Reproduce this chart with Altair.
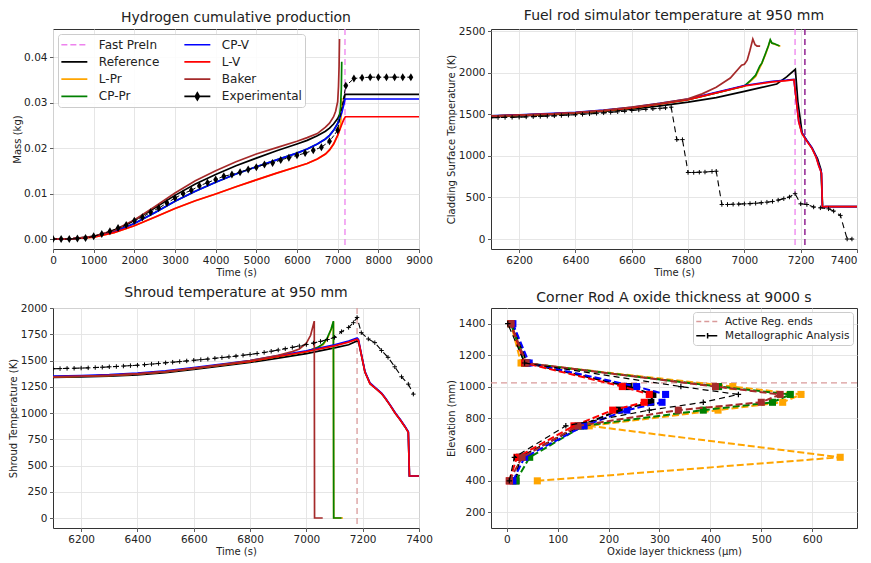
import altair as alt
import pandas as pd

# ================= Panel 1: Hydrogen cumulative production =================
h2_ref_t = [0, 500, 1000, 1250, 1500, 1750, 2000, 2500, 3000, 3500, 4000, 4500, 5000, 5500, 6000, 6250, 6500, 6700, 6800, 6900, 7000, 7050, 7100, 7150, 7180, 9000]
h2_ref_m = [0, 0.0001, 0.0006, 0.0011, 0.0019, 0.0029, 0.0041, 0.0068, 0.0096, 0.0121, 0.0142, 0.0161, 0.0178, 0.0194, 0.0209, 0.0217, 0.0227, 0.0237, 0.0244, 0.0253, 0.0265, 0.0274, 0.0284, 0.0300, 0.0318, 0.0318]

h2_cpv_t = [0, 500, 1000, 1500, 2000, 2500, 3000, 3500, 4000, 4500, 5000, 5500, 6000, 6250, 6500, 6700, 6800, 6900, 7000, 7050, 7100, 7150, 7180, 9000]
h2_cpv_m = [0, 0.0001, 0.0005, 0.0016, 0.0034, 0.0058, 0.0083, 0.0105, 0.0125, 0.0143, 0.0159, 0.0174, 0.0189, 0.0198, 0.0209, 0.0220, 0.0228, 0.0239, 0.0254, 0.0265, 0.0278, 0.0295, 0.0308, 0.0308]

h2_lv_t = [0, 500, 1000, 1500, 2000, 2500, 3000, 3500, 4000, 4500, 5000, 5500, 6000, 6250, 6500, 6700, 6800, 6900, 7000, 7050, 7100, 7150, 7190, 9000]
h2_lv_m = [0, 0.0001, 0.0004, 0.0014, 0.0029, 0.0048, 0.0067, 0.0084, 0.0099, 0.0115, 0.0130, 0.0145, 0.0159, 0.0166, 0.0176, 0.0187, 0.0196, 0.0209, 0.0228, 0.0240, 0.0252, 0.0263, 0.0269, 0.0269]

h2_lpr_t = [0, 500, 1000, 1500, 2000, 2500, 3000, 3500, 4000, 4500, 5000, 5500, 6000, 6250, 6500, 6700, 6800, 6900, 7000, 7040, 7070, 7090, 7100]
h2_lpr_m = [0, 0.0001, 0.0004, 0.0014, 0.0029, 0.0048, 0.0067, 0.0084, 0.0099, 0.0115, 0.0130, 0.0145, 0.0159, 0.0166, 0.0176, 0.0187, 0.0196, 0.0209, 0.0228, 0.0238, 0.0252, 0.0275, 0.0310]

h2_cppr_t = [0, 500, 1000, 1500, 2000, 2500, 3000, 3500, 4000, 4500, 5000, 5500, 6000, 6250, 6500, 6700, 6800, 6900, 7000, 7040, 7070, 7090, 7100]
h2_cppr_m = [0, 0.0001, 0.0005, 0.0016, 0.0034, 0.0058, 0.0083, 0.0105, 0.0125, 0.0143, 0.0159, 0.0174, 0.0189, 0.0198, 0.0209, 0.0220, 0.0228, 0.0239, 0.0254, 0.0266, 0.0290, 0.0330, 0.0390]

h2_baker_t = [0, 500, 1000, 1500, 2000, 2500, 3000, 3500, 4000, 4500, 5000, 5500, 6000, 6250, 6500, 6700, 6800, 6900, 6950, 7000, 7020, 7035, 7045]
h2_baker_m = [0, 0.0001, 0.0006, 0.0019, 0.0042, 0.0071, 0.0101, 0.0128, 0.0150, 0.0170, 0.0187, 0.0201, 0.0215, 0.0223, 0.0232, 0.0246, 0.0255, 0.0269, 0.0281, 0.0302, 0.0335, 0.0380, 0.0440]

h2_exp_t = [0, 200, 400, 600, 800, 1000, 1200, 1400, 1600, 1800, 2000, 2200, 2400, 2600, 2800, 3000, 3200, 3400, 3600, 3800, 4000, 4200, 4400, 4600, 4800, 5000, 5200, 5400, 5600, 5800, 6000, 6200, 6400, 6600, 6800, 7000, 7200, 7400, 7600, 7800, 8000, 8200, 8400, 8600, 8800]
h2_exp_m = [0.0000, 0.0000, 0.0000, 0.0001, 0.0002, 0.0006, 0.0011, 0.0017, 0.0024, 0.0031, 0.0040, 0.0048, 0.0059, 0.0068, 0.0079, 0.0090, 0.0100, 0.0107, 0.0117, 0.0124, 0.0131, 0.0138, 0.0142, 0.0147, 0.0153, 0.0158, 0.0164, 0.0167, 0.0174, 0.0179, 0.0184, 0.0189, 0.0195, 0.0202, 0.0215, 0.0239, 0.0337, 0.0353, 0.0355, 0.0356, 0.0356, 0.0356, 0.0356, 0.0356, 0.0356]

fast_prein_t = [7180]

# ================= Panel 2: Fuel rod simulator temperature =================
fr_ref_t = [6100, 6200, 6300, 6400, 6500, 6600, 6700, 6800, 6900, 7000, 7050, 7115, 7150, 7181, 7190, 7205, 7220, 7240, 7260, 7272, 7278, 7290, 7400]
fr_ref_T = [1470, 1480, 1493, 1510, 1533, 1562, 1600, 1645, 1700, 1775, 1815, 1864, 1950, 2040, 1650, 1275, 1195, 1095, 965, 835, 380, 390, 390]

fr_lv_t = [6100, 6200, 6300, 6400, 6500, 6600, 6700, 6800, 6900, 7000, 7100, 7150, 7176, 7185, 7193, 7204, 7220, 7240, 7255, 7264, 7274, 7277, 7285, 7400]
fr_lv_T = [1478, 1489, 1502, 1518, 1543, 1577, 1625, 1675, 1757, 1840, 1890, 1905, 1915, 1650, 1410, 1270, 1185, 1090, 980, 880, 790, 385, 390, 390]
fr_cpv_T = [1482, 1493, 1507, 1524, 1549, 1583, 1631, 1681, 1763, 1846, 1896, 1910, 1920, 1655, 1415, 1278, 1193, 1098, 988, 888, 795, 385, 390, 390]

fr_pr_t = [6100, 6200, 6300, 6400, 6500, 6600, 6700, 6800, 6900, 7000, 7020, 7040, 7055, 7062, 7075, 7085, 7092, 7098, 7105, 7125]
fr_cppr_T = [1478, 1489, 1502, 1518, 1543, 1577, 1625, 1675, 1757, 1840, 1900, 1970, 2080, 2115, 2230, 2320, 2395, 2355, 2350, 2320]
fr_lpr_t = [6100, 6200, 6300, 6400, 6500, 6600, 6700, 6800, 6900, 7000, 7020, 7040, 7055, 7062, 7075, 7085, 7092, 7098, 7105, 7128]
fr_lpr_T = [1478, 1489, 1502, 1518, 1543, 1577, 1625, 1675, 1757, 1838, 1893, 1955, 2060, 2110, 2220, 2315, 2390, 2355, 2345, 2318]

fr_baker_t = [6100, 6200, 6300, 6400, 6500, 6600, 6700, 6800, 6850, 6900, 6950, 6990, 7000, 7010, 7020, 7030, 7038, 7045, 7056]
fr_baker_T = [1478, 1489, 1503, 1520, 1546, 1585, 1630, 1685, 1745, 1825, 1935, 2090, 2100, 2150, 2270, 2405, 2335, 2320, 2318]

fr_exp_t = [6100, 6125, 6150, 6175, 6200, 6225, 6250, 6275, 6300, 6325, 6350, 6375, 6400, 6425, 6450, 6475, 6500, 6525, 6550, 6575, 6600, 6625, 6650, 6675, 6700, 6720, 6740, 6760, 6780, 6800, 6820, 6840, 6860, 6885, 6900, 6920, 6940, 6960, 6980, 7000, 7020, 7040, 7060, 7080, 7100, 7120, 7140, 7160, 7180, 7200, 7222, 7246, 7270, 7299, 7317, 7341, 7365, 7382]
fr_exp_T = [1458, 1460, 1462, 1463, 1465, 1468, 1471, 1474, 1477, 1481, 1485, 1489, 1494, 1499, 1505, 1511, 1517, 1523, 1530, 1537, 1545, 1552, 1560, 1566, 1572, 1577, 1585, 1195, 1195, 800, 800, 803, 805, 812, 815, 415, 415, 418, 420, 423, 426, 430, 436, 443, 452, 468, 485, 505, 545, 423, 415, 385, 375, 363, 336, 284, 0, 0]

fr_vlines_t = [7180, 7215]

# ================= Panel 3: Shroud temperature =================
sh_lv_t = [6100, 6200, 6300, 6400, 6500, 6600, 6700, 6800, 6900, 7000, 7100, 7150, 7180, 7185, 7196, 7208, 7226, 7250, 7267, 7280, 7297, 7315, 7333, 7350, 7362, 7366, 7400]
sh_lv_T = [1345, 1350, 1358, 1372, 1395, 1425, 1458, 1492, 1538, 1585, 1640, 1675, 1702, 1690, 1545, 1390, 1280, 1225, 1185, 1140, 1075, 1000, 935, 870, 817, 400, 400]
sh_cpv_T = [1352, 1357, 1365, 1379, 1402, 1432, 1465, 1499, 1546, 1593, 1649, 1686, 1715, 1700, 1552, 1396, 1286, 1230, 1190, 1145, 1080, 1005, 940, 875, 822, 400, 400]
sh_ref_T = [1338, 1343, 1350, 1363, 1385, 1415, 1448, 1482, 1522, 1565, 1620, 1650, 1686, 1680, 1545, 1390, 1280, 1225, 1185, 1140, 1075, 1000, 935, 870, 817, 400, 400]

sh_pr_t = [6100, 6200, 6300, 6400, 6500, 6600, 6700, 6800, 6900, 7000, 7040, 7060, 7075, 7088, 7096, 7097, 7125]
sh_cppr_T = [1345, 1350, 1358, 1372, 1395, 1425, 1458, 1492, 1538, 1585, 1625, 1660, 1720, 1800, 1875, 0, 0]
sh_lpr_t = [6100, 6200, 6300, 6400, 6500, 6600, 6700, 6800, 6900, 7000, 7040, 7060, 7075, 7088, 7096, 7097, 7130]
sh_lpr_T = [1345, 1350, 1358, 1372, 1395, 1425, 1458, 1492, 1538, 1585, 1622, 1652, 1710, 1795, 1870, 0, 0]

sh_baker_t = [6100, 6200, 6300, 6400, 6500, 6600, 6700, 6800, 6900, 6950, 6975, 7000, 7015, 7028, 7029, 7058]
sh_baker_T = [1345, 1350, 1358, 1372, 1395, 1425, 1460, 1500, 1550, 1585, 1610, 1665, 1740, 1875, 0, 0]

sh_exp_t = [6100, 6125, 6150, 6175, 6200, 6225, 6250, 6275, 6300, 6325, 6350, 6375, 6400, 6425, 6450, 6475, 6500, 6525, 6550, 6575, 6600, 6625, 6650, 6675, 6700, 6725, 6750, 6775, 6800, 6825, 6850, 6875, 6900, 6925, 6950, 6975, 7000, 7025, 7050, 7075, 7100, 7125, 7150, 7167, 7180, 7195, 7220, 7243, 7267, 7290, 7314, 7338, 7362, 7380]
sh_exp_T = [1422, 1423, 1425, 1426, 1428, 1430, 1433, 1436, 1440, 1443, 1447, 1451, 1455, 1460, 1466, 1472, 1478, 1484, 1490, 1496, 1502, 1508, 1514, 1521, 1528, 1535, 1542, 1550, 1558, 1567, 1577, 1588, 1600, 1612, 1625, 1638, 1652, 1666, 1682, 1700, 1720, 1775, 1815, 1860, 1910, 1765, 1705, 1670, 1595, 1530, 1440, 1345, 1275, 1180]

sh_vline_t = [7180]

# ================= Panel 4: Corner rod oxide thickness =================
ox_elev = [400, 550, 750, 850, 900, 950, 1000, 1150, 1400]
ox_ref = [18, 25, 145, 221, 283, 287, 240, 40, 10]
ox_lpr = [60, 655, 162, 415, 542, 578, 444, 28, 8]
ox_cppr = [18, 45, 150, 386, 522, 557, 416, 35, 8]
ox_cpv = [12, 35, 152, 236, 305, 312, 255, 44, 12]
ox_lv = [5, 20, 132, 208, 270, 280, 227, 35, 8]
ox_baker = [5, 30, 140, 337, 500, 537, 410, 38, 8]
ox_metal = [5, 15, 116, 280, 386, 455, 342, 35, 2]
active_end_elev = [1024]

# ================= styles =================
FONT = "DejaVu Sans"
TXT = "#222222"
C_REF, C_LPR, C_CPPR, C_CPV, C_LV, C_BAKER = "#000000", "#ffa500", "#008000", "#0000ff", "#ff0000", "#a52a2a"
C_FAST, C_PURPLE, C_ACT = "#ee82ee", "#800080", "#d99a9a"

THIN_DIAMOND = "M0,-1L0.6,0L0,1L-0.6,0Z"
PLUS = "M-1,0H1M0,-1V1"

W, H = 366, 220


def xenc(dom, ticks, title, fmt="d", flush=False):
    ax = alt.Axis(values=ticks, title=title, labelFlush=flush, labelOverlap=False, format=fmt)
    return alt.X("x:Q", scale=alt.Scale(domain=dom, nice=False, zero=False), axis=ax)


def yenc(dom, ticks, title, fmt="d"):
    ax = alt.Axis(values=ticks, title=title, labelOverlap=False, format=fmt)
    return alt.Y("y:Q", scale=alt.Scale(domain=dom, nice=False, zero=False), axis=ax)


def line(xs, ys, color, xe, ye, width=1.7, dash=None):
    df = pd.DataFrame({"x": xs, "y": ys, "i": list(range(len(xs)))})
    kw = dict(color=color, strokeWidth=width, clip=True)
    if dash:
        kw["strokeDash"] = dash
    return alt.Chart(df).mark_line(**kw).encode(x=xe, y=ye, order="i:Q")


def points(xs, ys, color, xe, ye, shape, size, filled=True, sw=1.0):
    df = pd.DataFrame({"x": xs, "y": ys})
    return alt.Chart(df).mark_point(shape=shape, size=size, filled=filled, color=color,
                                    opacity=1, strokeWidth=sw, clip=True).encode(x=xe, y=ye)


def vrule(xs, color, xe, dash=(6, 4), width=1.3):
    df = pd.DataFrame({"x": xs})
    return alt.Chart(df).mark_rule(color=color, strokeDash=list(dash), strokeWidth=width).encode(x=xe)


def hrule(ys, color, ye, dash=(6, 4), width=1.3):
    df = pd.DataFrame({"y": ys})
    return alt.Chart(df).mark_rule(color=color, strokeDash=list(dash), strokeWidth=width).encode(y=ye)


def legend_layer(names, colors, fills, shapes, dashes, xe, ye, leg, size):
    df = pd.DataFrame({"series": names, "x": [None] * len(names), "y": [None] * len(names)})
    return alt.Chart(df).mark_point(opacity=1, size=size, strokeWidth=1.8).encode(
        x=xe, y=ye,
        color=alt.Color("series:N", scale=alt.Scale(domain=names, range=colors), legend=leg),
        fill=alt.Fill("series:N", scale=alt.Scale(domain=names, range=fills), legend=leg),
        shape=alt.Shape("series:N", scale=alt.Scale(domain=names, range=shapes), legend=leg),
        strokeDash=alt.StrokeDash("series:N", scale=alt.Scale(domain=names, range=dashes), legend=leg),
    )


def ptitle(text):
    return alt.TitleParams(text=text, fontSize=14, fontWeight="normal", font=FONT, color=TXT, offset=3, anchor="middle")


# ---------------- Panel 1 ----------------
x1 = xenc([0, 9000], list(range(0, 9001, 1000)), "Time (s)")
y1 = yenc([-0.0022, 0.0462], [0, 0.01, 0.02, 0.03, 0.04], "Mass (kg)", ".2f")

LINE1 = "M-2.08,0H2.08"
EXP1 = "M-2.08,0H2.08M0,-0.56L0.32,0L0,0.56L-0.32,0Z"
leg1_names = ["Fast PreIn", "Reference", "L-Pr", "CP-Pr", "CP-V", "L-V", "Baker", "Experimental"]
leg1_colors = [C_FAST, C_REF, C_LPR, C_CPPR, C_CPV, C_LV, C_BAKER, "#000000"]
leg1_fills = ["transparent"] * 7 + ["#000000"]
leg1_shapes = [LINE1] * 7 + [EXP1]
leg1_dashes = [[6, 3]] + [[1, 0]] * 7
leg1 = alt.Legend(title=None, orient="top-left", offset=5, columns=2, columnPadding=20, rowPadding=3.3,
                  padding=3, fillColor="rgba(255,255,255,0.85)", strokeColor="#cccccc", cornerRadius=3,
                  labelFont=FONT, labelFontSize=12, labelColor=TXT, symbolSize=156, symbolStrokeWidth=1.7,
                  symbolOffset=5.85, labelOffset=17)

p1 = alt.layer(
    vrule(fast_prein_t, C_FAST, x1),
    line(h2_ref_t, h2_ref_m, C_REF, x1, y1),
    line(h2_lpr_t, h2_lpr_m, C_LPR, x1, y1),
    line(h2_cppr_t, h2_cppr_m, C_CPPR, x1, y1),
    line(h2_cpv_t, h2_cpv_m, C_CPV, x1, y1),
    line(h2_lv_t, h2_lv_m, C_LV, x1, y1),
    line(h2_baker_t, h2_baker_m, C_BAKER, x1, y1),
    line(h2_exp_t, h2_exp_m, "#000000", x1, y1, width=1.0, dash=[4, 2]),
    points(h2_exp_t, h2_exp_m, "#000000", x1, y1, THIN_DIAMOND, 64),
    legend_layer(leg1_names, leg1_colors, leg1_fills, leg1_shapes, leg1_dashes, x1, y1, leg1, 156),
).properties(width=W, height=H, title=ptitle("Hydrogen cumulative production"))

# ---------------- Panel 2 ----------------
x2 = xenc([6100, 7400], list(range(6200, 7401, 200)), "Time (s)", flush=True)
y2 = yenc([-120, 2525], [0, 500, 1000, 1500, 2000, 2500], "Cladding Surface Temperature (K)")
p2 = alt.layer(
    vrule([fr_vlines_t[0]], C_FAST, x2),
    vrule([fr_vlines_t[1]], C_PURPLE, x2),
    line(fr_ref_t, fr_ref_T, C_REF, x2, y2),
    line(fr_lpr_t, fr_lpr_T, C_LPR, x2, y2),
    line(fr_pr_t, fr_cppr_T, C_CPPR, x2, y2),
    line(fr_lv_t, fr_cpv_T, C_CPV, x2, y2),
    line(fr_lv_t, fr_lv_T, C_LV, x2, y2),
    line(fr_baker_t, fr_baker_T, C_BAKER, x2, y2),
    line(fr_exp_t, fr_exp_T, "#000000", x2, y2, width=1.1, dash=[6, 4]),
    points(fr_exp_t, fr_exp_T, "#000000", x2, y2, PLUS, 20, filled=False, sw=1.0),
).properties(width=W, height=H, title=ptitle("Fuel rod simulator temperature at 950 mm"))

# ---------------- Panel 3 ----------------
x3 = xenc([6100, 7400], list(range(6200, 7401, 200)), "Time (s)")
y3 = yenc([-95, 2000], list(range(0, 2001, 250)), "Shroud Temperature (K)")
p3 = alt.layer(
    vrule(sh_vline_t, C_ACT, x3),
    line(sh_lv_t, sh_ref_T, C_REF, x3, y3),
    line(sh_lpr_t, sh_lpr_T, C_LPR, x3, y3),
    line(sh_pr_t, sh_cppr_T, C_CPPR, x3, y3),
    line(sh_lv_t, sh_cpv_T, C_CPV, x3, y3),
    line(sh_lv_t, sh_lv_T, C_LV, x3, y3),
    line(sh_baker_t, sh_baker_T, C_BAKER, x3, y3),
    line(sh_exp_t, sh_exp_T, "#000000", x3, y3, width=1.1, dash=[6, 4]),
    points(sh_exp_t, sh_exp_T, "#000000", x3, y3, PLUS, 20, filled=False, sw=1.0),
).properties(width=W, height=H, title=ptitle("Shroud temperature at 950 mm"))

# ---------------- Panel 4 ----------------
x4 = xenc([-31, 688], list(range(0, 601, 100)), "Oxide layer thickness (µm)")
y4 = yenc([100, 1500], list(range(200, 1401, 200)), "Elevation (mm)")

LINE4 = "M-2.06,0H2.06"
MET4 = "M-2.06,0H2.06M0,-0.5V0.5"
leg4_names = ["Active Reg. ends", "Metallographic Analysis"]
leg4 = alt.Legend(title=None, orient="top-right", offset=4, rowPadding=2.2, padding=3,
                  fillColor="rgba(255,255,255,0.85)", strokeColor="#cccccc", cornerRadius=3,
                  labelFont=FONT, labelFontSize=10.5, labelColor=TXT, symbolSize=121, symbolStrokeWidth=1.5,
                  symbolOffset=5.1, labelOffset=11)

ox_layers = [hrule(active_end_elev, C_ACT, y4)]
for vals, col in [(ox_ref, C_REF), (ox_lpr, C_LPR), (ox_cppr, C_CPPR), (ox_cpv, C_CPV), (ox_lv, C_LV), (ox_baker, C_BAKER)]:
    ox_layers.append(line(vals, ox_elev, col, x4, y4, width=2.0, dash=[7, 3]))
    ox_layers.append(points(vals, ox_elev, col, x4, y4, "square", 50))
ox_layers.append(line(ox_metal, ox_elev, "#000000", x4, y4, width=1.2, dash=[6, 4]))
ox_layers.append(points(ox_metal, ox_elev, "#000000", x4, y4, PLUS, 30, filled=False, sw=1.2))
ox_layers.append(legend_layer(leg4_names, [C_ACT, "#000000"], ["transparent", "transparent"], [LINE4, MET4],
                              [[5, 3], [9, 3]], x4, y4, leg4, 121))
p4 = alt.layer(*ox_layers).properties(width=W, height=H, title=ptitle("Corner Rod A oxide thickness at 9000 s"))

chart = alt.concat(p1, p2, p3, p4, columns=2, spacing={"row": 59, "column": 72}, bounds="flush").resolve_scale(
    x="independent", y="independent", color="independent", fill="independent",
    shape="independent", strokeDash="independent"
).properties(padding={"left": 0, "top": 0, "right": 0, "bottom": 0}).configure(font=FONT).configure_view(
    stroke="#333333", strokeWidth=1
).configure_axis(
    labelFont=FONT, labelFontSize=10.5, labelColor=TXT, titleFont=FONT, titleFontSize=10,
    titleFontWeight="normal", titleColor=TXT, tickColor="#333333", tickSize=3.5, tickWidth=0.8,
    labelPadding=2.5, titlePadding=1.5, domain=False, grid=True, gridColor="#e3e3e3", gridWidth=0.9
)

chart.save("out.html", embed_options={"renderer": "svg", "actions": False})
